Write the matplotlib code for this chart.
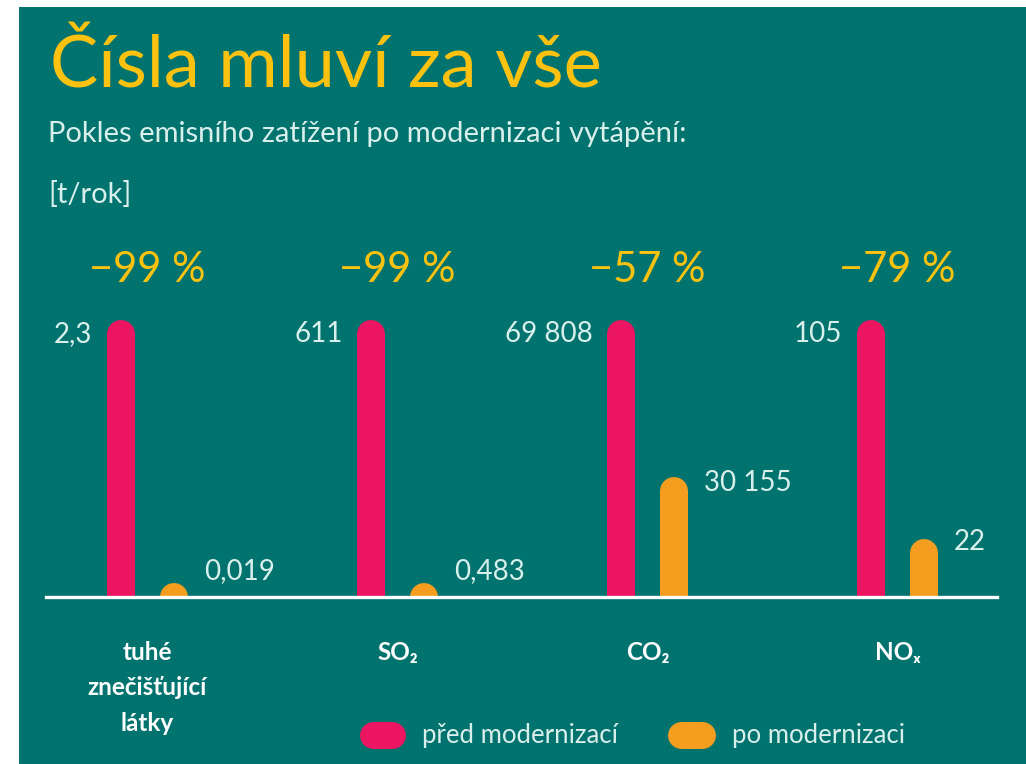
import matplotlib
matplotlib.use("Agg")
import matplotlib.pyplot as plt
from matplotlib.patches import Rectangle
from matplotlib.lines import Line2D
from matplotlib.transforms import blended_transform_factory

plt.rcParams['font.family'] = ['Lato', 'DejaVu Sans']

# data (t/rok)
categories = ["tuhé\nznečišťující\nlátky", "SO₂", "CO₂", "NOₓ"]
before = [2.3, 611, 69808, 105]
after = [0.019, 0.483, 30155, 22]
change_pct = [-99, -99, -57, -79]
series_names = ["před modernizací", "po modernizaci"]

BG = "#00736f"
PINK = "#ec1561"
ORANGE = "#f59d1e"
YELLOW = "#fdc20f"
LIGHT = "#d9efeb"


def fmt(v):
    # czech style: space as thousands separator, comma as decimal
    if float(v).is_integer():
        return f"{int(v):,}".replace(",", " ")
    return str(v).replace(".", ",")


W, H = 1026, 764
fig = plt.figure(figsize=(W / 100, H / 100), dpi=100, facecolor="white")
fig.patches.append(Rectangle((19 / W, 0), 1 - 19 / W, 1 - 7 / H, transform=fig.transFigure,
                             facecolor=BG, edgecolor="none", zorder=-10))

fig.text(50 / W, 1 - 88 / H, "Čísla mluví za vše", color=YELLOW, fontsize=52, va="baseline")
fig.text(48 / W, 1 - 142 / H, "Pokles emisního zatížení po modernizaci vytápění:", color=LIGHT,
         fontsize=21, va="baseline")
fig.text(48 / W, 1 - 203 / H, "[t/rok]", color=LIGHT, fontsize=21, va="baseline")

ax = fig.add_axes([46 / W, 1 - 597 / H, 951 / W, 297 / H])
ax.set_facecolor("none")
for s in ax.spines.values():
    s.set_visible(False)
ax.set_xticks([])
ax.set_yticks([])
ax.set_xlim(-0.406, 3.398)
ax.set_ylim(0, 297 / 263)

off = 0.106
bar_lw = 28 * 0.72
cap = 14 / 263  # radius of the rounded top in data units
for i in range(len(categories)):
    a = after[i] / before[i]
    # whole pill (incl. rounded top) is proportional to the value, pink = 1
    top_b = 1.0
    top_a = max(a * (1 + cap) - cap, 0)
    # start below the axis so tiny values still show their rounded top; the axes clip the rest
    ax.plot([i - off, i - off], [-0.2, top_b], color=PINK, lw=bar_lw, solid_capstyle="round")
    ax.plot([i + off, i + off], [-0.2, top_a], color=ORANGE, lw=bar_lw, solid_capstyle="round")
    ax.annotate(fmt(before[i]), (i - off, top_b), xytext=(-20.5, 0), textcoords="offset points",
                ha="right", va="center", color=LIGHT, fontsize=20)
    ax.annotate(fmt(after[i]), (i + off, max(a, 0.1)), xytext=(21.5, 0), textcoords="offset points",
                ha="left", va="center", color=LIGHT, fontsize=20)

ax.axhline(0, color="white", lw=2.4, clip_on=False, zorder=5)

trans = blended_transform_factory(ax.transData, fig.transFigure)
for i, cat in enumerate(categories):
    ax.text(i, 1 - 282 / H, f"−{abs(change_pct[i])} %", transform=trans, ha="center",
            va="baseline", color=YELLOW, fontsize=30)
    ax.text(i, 1 - 641 / H, cat, transform=trans, ha="center", va="top", color="white",
            fontsize=17.5, fontweight="bold", linespacing=1.65)

# legend drawn by hand as rounded pills
for x0, x1, col, name in [(373, 392, PINK, series_names[0]), (681, 702, ORANGE, series_names[1])]:
    fig.add_artist(Line2D([x0 / W, x1 / W], [1 - 735 / H] * 2, transform=fig.transFigure,
                          color=col, lw=27 * 0.72, solid_capstyle="round"))
    fig.text((x1 + 13 + 17) / W, 1 - 735 / H, name, color=LIGHT, fontsize=18.5, va="center")

fig.savefig("out.png", dpi=100, facecolor=fig.get_facecolor())
